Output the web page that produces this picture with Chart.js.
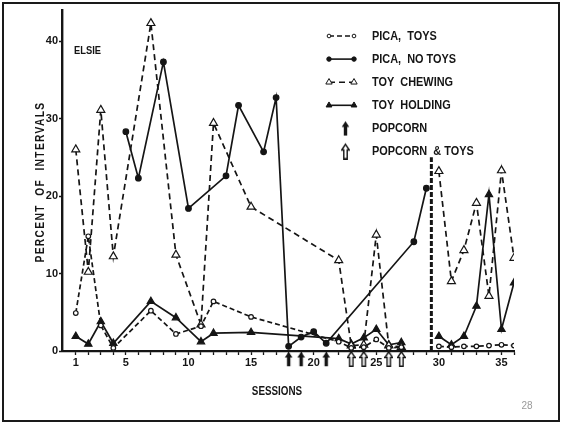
<!DOCTYPE html>
<html>
<head>
<meta charset="utf-8">
<script src="https://cdn.jsdelivr.net/npm/chart.js@4.4.1/dist/chart.umd.min.js"></script>
<style>
  html, body { margin: 0; padding: 0; background: #fff; }
  body { width: 564px; height: 424px; position: relative; overflow: hidden; }
  #frame { position: absolute; left: 2px; top: 2px; width: 554px; height: 416px; border: 2px solid #1a1a1a; }
  #chart { position: absolute; left: 0; top: 0; }
</style>
</head>
<body>
<div id="frame"></div>
<canvas id="chart" width="564" height="424"></canvas>
<script>
// sessions where toys were available
const toySessions = [1, 2, 3, 4, 7, 9, 11, 12, 15, 22, 23, 24, 25, 26, 27, 30, 31, 32, 33, 34, 35, 36];
const picaToys    = [4.9, 14.8, 3.3, 0.4, 5.2, 2.2, 3.2, 6.4, 4.4, 1.2, 0.4, 0.5, 1.5, 0.4, 0.5, 0.6, 0.5, 0.6, 0.6, 0.7, 0.8, 0.7];
const toyChewing  = [26.0, 10.2, 31.1, 12.2, 42.3, 12.4, 3.4, 29.4, 18.6, 11.7, 0.7, 0.8, 15.0, 0.7, 0.5, 23.2, 9.0, 13.0, 19.1, 7.1, 23.3, 12.0];
const toyHolding  = [1.9, 0.9, 3.8, 1.0, 6.4, 4.3, 1.2, 2.3, 2.4, 1.6, 0.9, 1.7, 2.8, 0.8, 1.1, 1.9, 0.8, 1.9, 5.8, 20.2, 2.8, 8.8];

// sessions without toys
const noToySessions = [5, 6, 8, 10, 13, 14, 16, 17, 18, 19, 20, 21, 28, 29];
const picaNoToys    = [28.3, 22.3, 37.3, 18.4, 22.6, 31.7, 25.7, 32.7, 0.6, 1.8, 2.5, 1.0, 14.1, 21.0];

// reinforcement sessions, marked under the axis
const popcornSessions    = [18, 19, 21];
const popcornToySessions = [23, 24, 26, 27];

// phase change before the last block
const phaseSession = 29.4;
const phaseTop = 25;

const xTickLabels = [1, 5, 10, 15, 20, 25, 30, 35];
const yTickLabels = [0, 10, 20, 30, 40];

const FONT = "'Liberation Sans', 'DejaVu Sans', sans-serif";
const INK = '#151515';

// lines are broken where a series crosses the phase change
function pts(xs, ys) {
    const out = [];
    xs.forEach((x, i) => {
        if (i > 0 && xs[i - 1] < phaseSession && x > phaseSession) {
            out.push({ x: phaseSession, y: null });
        }
        out.push({ x: x, y: ys[i] });
    });
    return out;
}

// arrow marker hanging below its anchor point, so a point sitting on
// the axis draws its arrow underneath it
function arrowImage(filled, hang) {
    const c = document.createElement('canvas');
    c.width = 9;
    c.height = 2 * (hang + 16);
    const g = c.getContext('2d');
    g.translate(0, c.height / 2 + hang);
    g.beginPath();
    g.moveTo(4.5, 0.8);
    g.lineTo(8.3, 6.5);
    g.lineTo(6.2, 6.5);
    g.lineTo(6.2, 15.2);
    g.lineTo(2.8, 15.2);
    g.lineTo(2.8, 6.5);
    g.lineTo(0.7, 6.5);
    g.closePath();
    if (filled) {
        g.fillStyle = INK;
        g.fill();
    } else {
        g.fillStyle = '#fff';
        g.fill();
        g.lineWidth = 1.4;
        g.strokeStyle = INK;
        g.stroke();
    }
    return c;
}

function keyArrow(filled) {
    return arrowImage(filled, 0);
}

const popcornArrow = arrowImage(true, 0);
const popcornToyArrow = arrowImage(false, 0);

const series = {
    picaToys: { pointStyle: 'circle', pointRadius: 2.3, pointBackgroundColor: '#fff', borderDash: [5, 3] },
    picaNoToys: { pointStyle: 'circle', pointRadius: 2.8, pointBackgroundColor: INK, borderDash: [] },
    toyChewing: { pointStyle: 'triangle', pointRadius: 4.6, pointBackgroundColor: '#fff', borderDash: [6, 4] },
    toyHolding: { pointStyle: 'triangle', pointRadius: 4.2, pointBackgroundColor: INK, borderDash: [] },
};

function lineSet(label, data, style) {
    return Object.assign({
        label: label,
        data: data,
        showLine: true,
        spanGaps: false,
        borderColor: INK,
        borderWidth: 1.7,
        pointBorderColor: INK,
        pointBorderWidth: 1.2,
        tension: 0,
    }, style);
}

const legendRows = [
    { text: 'PICA,  TOYS', style: series.picaToys },
    { text: 'PICA,  NO TOYS', style: series.picaNoToys },
    { text: 'TOY  CHEWING', style: series.toyChewing },
    { text: 'TOY  HOLDING', style: series.toyHolding },
    { text: 'POPCORN', arrow: true },
    { text: 'POPCORN  & TOYS', arrow: false },
];

// narrow, heavy lettering
function condensedText(ctx, text, x, y, squeeze) {
    ctx.save();
    ctx.translate(x, y);
    ctx.scale(squeeze, 1);
    ctx.fillText(text, 0, 0);
    ctx.restore();
}

// titles, subject name, key and page number
const annotations = {
    id: 'annotations',
    afterDraw(chart) {
        const ctx = chart.ctx;
        ctx.save();
        ctx.fillStyle = INK;
        ctx.textBaseline = 'middle';

        ctx.font = 'bold 11px ' + FONT;
        ctx.textAlign = 'left';
        condensedText(ctx, 'ELSIE', 74, 51, 0.85);

        ctx.textAlign = 'center';
        ctx.font = 'bold 12px ' + FONT;
        condensedText(ctx, 'SESSIONS', 277, 392, 0.82);

        ctx.save();
        ctx.translate(41, 182);
        ctx.rotate(-Math.PI / 2);
        ctx.font = 'bold 12px ' + FONT;
        ctx.letterSpacing = '1.6px';
        condensedText(ctx, 'PERCENT  OF  INTERVALS', 0, 0, 0.85);
        ctx.restore();

        // key
        let y = 36;
        legendRows.forEach((row) => {
            if (row.arrow !== undefined) {
                const img = keyArrow(row.arrow);
                ctx.drawImage(img, 341, y - img.height / 2 - 8);
            } else {
                ctx.save();
                ctx.strokeStyle = INK;
                ctx.lineWidth = 1.6;
                ctx.setLineDash(row.style.borderDash);
                ctx.beginPath();
                ctx.moveTo(329, y);
                ctx.lineTo(354, y);
                ctx.stroke();
                ctx.restore();
                [329, 354].forEach((px) => {
                    ctx.save();
                    ctx.fillStyle = row.style.pointBackgroundColor;
                    ctx.strokeStyle = INK;
                    Chart.helpers.drawPoint(ctx, {
                        pointStyle: row.style.pointStyle,
                        radius: row.style.pointRadius * 0.8,
                        borderWidth: 1.2,
                        rotation: 0,
                    }, px, y);
                    ctx.restore();
                });
            }
            ctx.fillStyle = INK;
            ctx.textAlign = 'left';
            ctx.font = 'bold 13px ' + FONT;
            condensedText(ctx, row.text, 372, y, 0.84);
            y += 23.1;
        });

        ctx.font = '10px ' + FONT;
        ctx.fillStyle = '#9a9a9a';
        ctx.textAlign = 'center';
        ctx.fillText('28', 527, 406);
        ctx.restore();
    },
};

new Chart(document.getElementById('chart').getContext('2d'), {
    type: 'scatter',
    data: {
        datasets: [
            lineSet('Pica, toys', pts(toySessions, picaToys), series.picaToys),
            lineSet('Pica, no toys', pts(noToySessions, picaNoToys), series.picaNoToys),
            lineSet('Toy chewing', pts(toySessions, toyChewing), series.toyChewing),
            lineSet('Toy holding', pts(toySessions, toyHolding), series.toyHolding),
            {
                label: 'Phase change',
                data: [{ x: phaseSession, y: 0 }, { x: phaseSession, y: phaseTop }],
                showLine: true,
                borderColor: INK,
                borderWidth: 3,
                borderDash: [5, 2],
                pointRadius: 0,
            },
            {
                label: 'Popcorn',
                data: popcornSessions.map((x) => ({ x: x, y: 0 })),
                pointStyle: popcornArrow,
                pointRadius: 4,
                clip: false,
            },
            {
                label: 'Popcorn & toys',
                data: popcornToySessions.map((x) => ({ x: x, y: 0 })),
                pointStyle: popcornToyArrow,
                pointRadius: 4,
                clip: false,
            },
        ],
    },
    options: {
        responsive: false,
        animation: false,
        devicePixelRatio: 1,
        layout: {
            padding: { left: 0, right: 50, top: 10, bottom: 0 },
        },
        plugins: {
            legend: { display: false },
            tooltip: { enabled: false },
        },
        scales: {
            x: {
                type: 'linear',
                min: -0.1,
                max: 36,
                afterFit: (scale) => { scale.height = 73; },
                afterBuildTicks: (scale) => {
                    scale.ticks = Array.from({ length: 36 }, (_, i) => ({ value: i + 1 }));
                },
                ticks: {
                    autoSkip: false,
                    maxRotation: 0,
                    padding: 1,
                    color: INK,
                    font: { family: FONT, size: 11, weight: 'bold' },
                    callback: (value) => (xTickLabels.includes(value) ? String(value) : ''),
                },
                grid: {
                    drawOnChartArea: false,
                    drawTicks: true,
                    tickLength: 4,
                    tickWidth: 1.3,
                    tickColor: INK,
                },
                border: { color: INK, width: 2.2 },
            },
            y: {
                min: 0,
                max: 44,
                afterFit: (scale) => { scale.width = 62; },
                afterBuildTicks: (scale) => {
                    scale.ticks = yTickLabels.map((v) => ({ value: v }));
                },
                ticks: {
                    padding: 1,
                    color: INK,
                    font: { family: FONT, size: 11, weight: 'bold' },
                },
                grid: {
                    drawOnChartArea: false,
                    drawTicks: true,
                    tickLength: 3,
                    tickWidth: 1.5,
                    tickColor: INK,
                },
                border: { color: INK, width: 2.4 },
            },
        },
    },
    plugins: [annotations],
});
</script>
</body>
</html>
